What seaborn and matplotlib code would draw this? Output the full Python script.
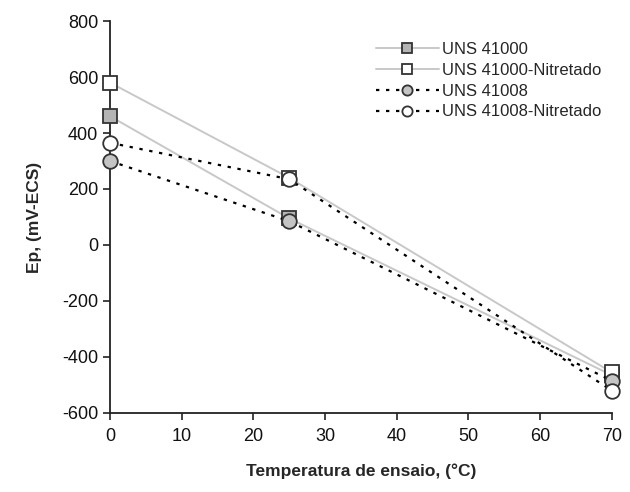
import matplotlib
matplotlib.use("Agg")
import matplotlib.pyplot as plt
import seaborn as sns
import pandas as pd

temps = [0, 25, 70]
uns41000 = [460, 95, -465]
uns41000_nit = [580, 240, -455]
uns41008 = [300, 85, -485]
uns41008_nit = [365, 235, -520]
labels = ["UNS 41000", "UNS 41000-Nitretado", "UNS 41008", "UNS 41008-Nitretado"]
xticks = [0, 10, 20, 30, 40, 50, 60, 70]
yticks = [-600, -400, -200, 0, 200, 400, 600, 800]

sns.set_theme(style="ticks")
plt.rcParams['font.family'] = ['Liberation Sans', 'DejaVu Sans']
plt.rcParams['axes.unicode_minus'] = False

fig = plt.figure(figsize=(6.3, 4.92), dpi=100)
ax = fig.add_axes([0.1746, 0.1606, 0.7964, 0.7967])

series = [uns41000, uns41000_nit, uns41008, uns41008_nit]
styles = [
    dict(color="#c8c8c8", linestyle="-", marker="s", mfc="#b4b4b4", lw=1.4),
    dict(color="#c8c8c8", linestyle="-", marker="s", mfc="white", lw=1.4),
    dict(color="black", linestyle=(0, (1.5, 3)), marker="o", mfc="#c4c4c4", lw=1.6),
    dict(color="black", linestyle=(0, (1.5, 3)), marker="o", mfc="white", lw=1.6),
]
for vals, lab, st in zip(series, labels, styles):
    df = pd.DataFrame({"T": temps, "Ep": vals})
    sns.lineplot(data=df, x="T", y="Ep", ax=ax, label=lab, color=st["color"],
                 linestyle=st["linestyle"], lw=st["lw"], marker=st["marker"],
                 markersize=10.5, markerfacecolor=st["mfc"], markeredgecolor="#333333",
                 markeredgewidth=1.3, clip_on=False, zorder=3)

ax.set_xlim(0, 70)
ax.set_ylim(-600, 800)
ax.set_xticks(xticks)
ax.set_yticks(yticks)
ax.tick_params(axis="both", labelsize=13, length=5, width=1.2, color="#222222",
               labelcolor="#111111", direction="out")
ax.tick_params(axis="x", pad=6)
for s in ["top", "right"]:
    ax.spines[s].set_visible(False)
for s in ["left", "bottom"]:
    ax.spines[s].set_linewidth(1.3)
    ax.spines[s].set_color("#222222")

ax.set_xlabel("Temperatura de ensaio, (°C)", fontsize=12.5, fontweight="bold", labelpad=13)
ax.set_ylabel("Ep, (mV-ECS)", fontsize=12.5, fontweight="bold", labelpad=14)

ax.legend(loc="upper right", bbox_to_anchor=(1.01, 0.985), frameon=False, fontsize=12,
          handlelength=3.8, handletextpad=0.2, labelspacing=0.35, numpoints=1,
          markerscale=0.7)

fig.savefig("out.png", dpi=100)
